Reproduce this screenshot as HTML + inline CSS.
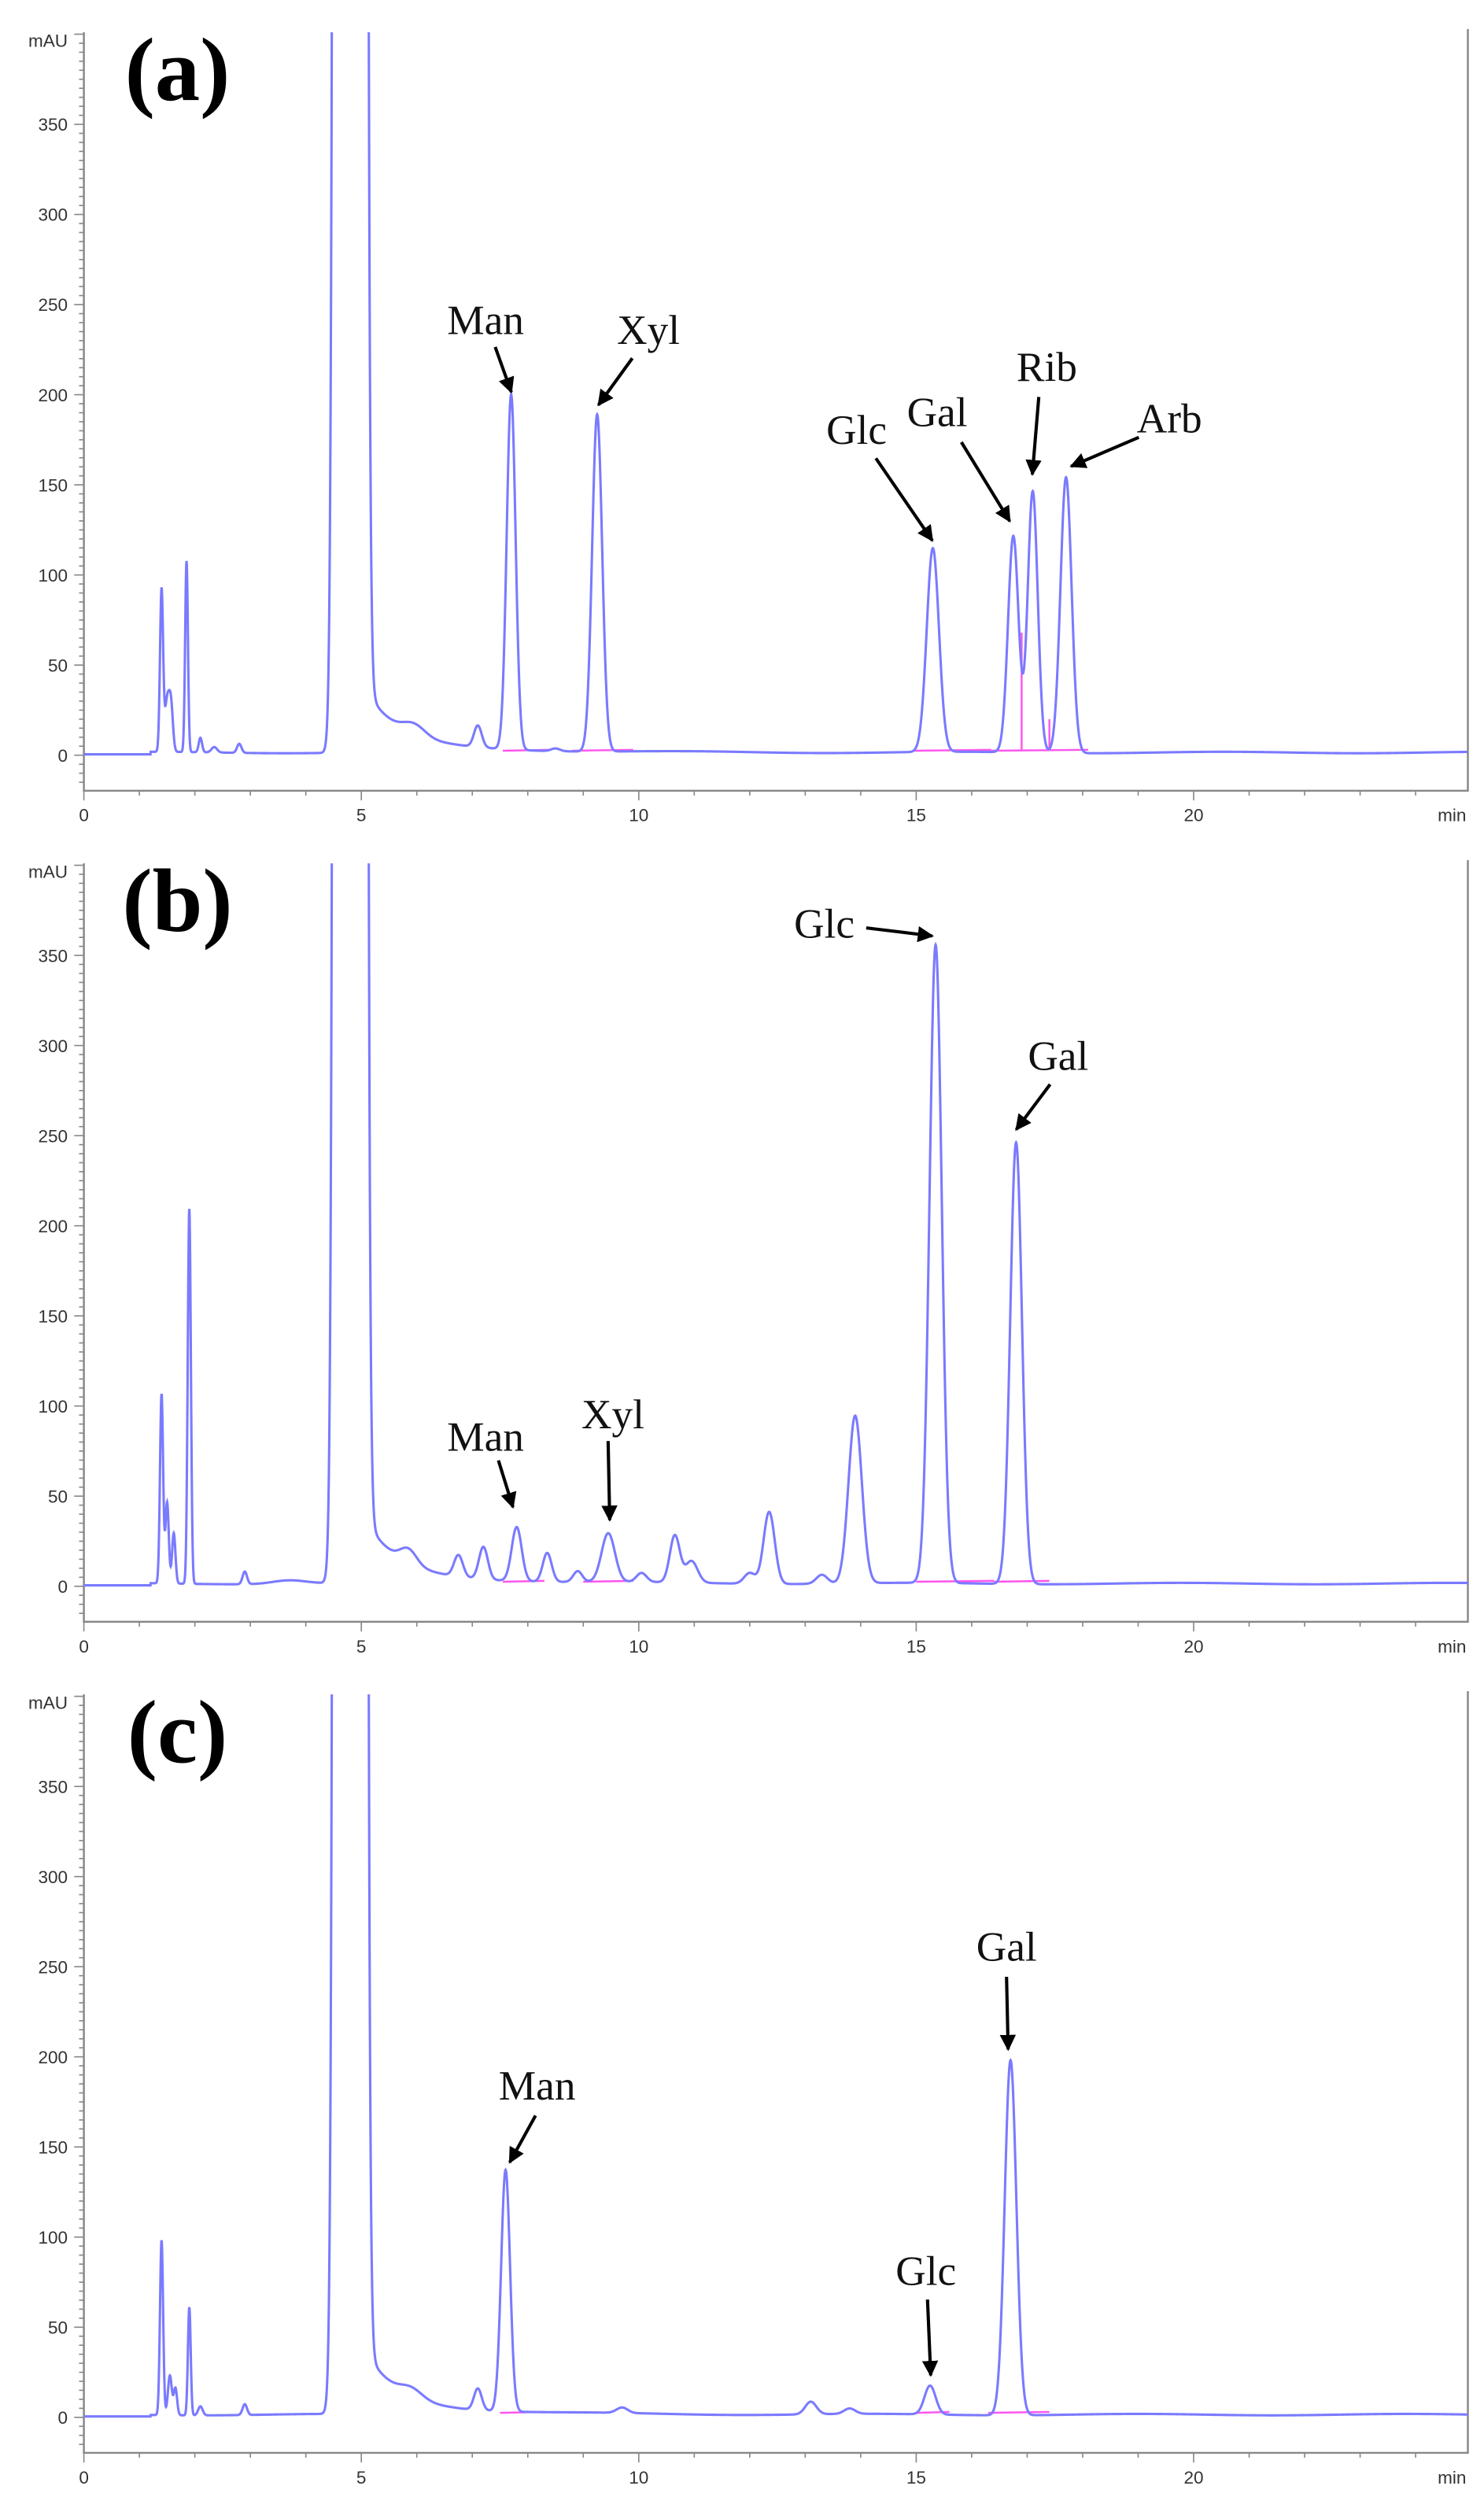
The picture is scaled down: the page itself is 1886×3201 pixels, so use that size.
<!DOCTYPE html>
<html><head><meta charset="utf-8">
<style>
html,body{margin:0;padding:0;background:#fff;}
svg{display:block;}
.tk{font-family:"Liberation Sans",sans-serif;font-size:11px;fill:#333;}
.lb{font-family:"Liberation Serif",serif;font-size:26px;fill:#111;}
.pl{font-family:"Liberation Serif",serif;font-size:56px;font-weight:bold;fill:#000;}
</style></head>
<body>
<svg id="s" width="1886" height="3201" viewBox="0 0 920 1561" preserveAspectRatio="none" xmlns="http://www.w3.org/2000/svg">
<defs>
<marker id="ar" viewBox="0 0 10 10" refX="9" refY="5" markerWidth="5" markerHeight="5" orient="auto"><path d="M0,0 L10,5 L0,10 z" fill="#000"/></marker>
</defs>
<g id="root"></g>
</svg>
<script>
var NS="http://www.w3.org/2000/svg";
var root=document.getElementById('root');
function el(t,a,txt){var e=document.createElementNS(NS,t);for(var k in a)e.setAttribute(k,a[k]);if(txt!==undefined)e.textContent=txt;root.appendChild(e);return e;}
var X0=52,PX=34.4,Y0=468,PY=1.117,TOP=20,AX=490,RT=910;
var panels=[
 {off:0,lab:"(a)",peaks:[[1.4,90,0.028],[1.5,28,0.04],[1.57,25,0.035],[1.85,106,0.025],[2.1,8,0.03],[2.35,3,0.05],[2.8,5,0.04],[7.1,12,0.07],[7.7,197,0.08],[9.25,187,0.09],[15.3,113,0.11],[16.75,120,0.095],[17.1,145,0.09],[17.7,153,0.1],[5.95,6,0.2],[8.5,1.5,0.08]],
  pink:[[7.55,8.4],[8.8,9.9],[14.95,16.35],[16.3,18.1]],pv:[[16.9,68],[17.4,20]],
  labels:[["Man",301,207,307,215,317,243],["Xyl",402,213,392,222,371,251],["Glc",531,275,543,284,578,335],["Gal",581,264,596,274,626,323],["Rib",649,236,644,246,640,294],["Arb",725,268,706,271,664,289]]},
 {off:515,lab:"(b)",peaks:[[1.4,105,0.028],[1.5,45,0.03],[1.62,28,0.03],[1.9,208,0.028],[2.9,7,0.04],[5.85,8,0.15],[6.75,12,0.08],[7.2,18,0.08],[7.8,30,0.09],[8.35,16,0.08],[8.9,6,0.08],[9.45,27,0.12],[10.05,5,0.09],[10.65,26,0.09],[10.95,12,0.11],[12.0,6,0.1],[12.35,40,0.1],[13.3,5,0.1],[13.9,93,0.12],[15.35,354,0.11],[16.8,245,0.105],[3.7,2,0.3]],
  pink:[[7.55,8.3],[9.0,9.9],[15.0,16.4],[16.4,17.4]],pv:[],
  labels:[["Man",301,899,309,905,318,934],["Xyl",380,885,377,893,378,942],["Glc",511,581,537,575,578,580],["Gal",656,663,651,672,630,700]]},
 {off:1030,lab:"(c)",peaks:[[1.4,97,0.028],[1.55,22,0.035],[1.65,15,0.03],[1.9,60,0.025],[2.1,5,0.04],[2.9,6,0.04],[5.9,5,0.2],[7.1,12,0.07],[7.6,134,0.08],[9.7,3,0.1],[13.1,7,0.1],[13.8,3,0.1],[15.25,16,0.1],[16.7,197,0.105]],
  pink:[[7.5,8.3],[15.0,15.6],[16.3,17.4]],pv:[],
  labels:[["Man",333,1301,332,1311,316,1340],["Glc",574,1416,575,1425,577,1472],["Gal",624,1215,624,1225,625,1270]]}
];
panels.forEach(function(p,pi){
 var o=p.off;
 function xs(t){return X0+PX*t;}
 function ys(v){return o+Y0-PY*v;}
 var cid="c"+pi;
 var cp=document.createElementNS(NS,"clipPath");cp.setAttribute("id",cid);
 var r=document.createElementNS(NS,"rect");r.setAttribute("x",X0);r.setAttribute("y",o+TOP);r.setAttribute("width",RT-X0);r.setAttribute("height",AX-TOP);
 cp.appendChild(r);document.querySelector("defs").appendChild(cp);
 el("path",{d:"M"+X0+","+(o+TOP)+"V"+(o+AX)+"H"+RT+"V"+(o+TOP-2),stroke:"#888",fill:"none","stroke-width":1.2});
 for(var v=-20;v<=400;v+=5){var y=ys(v);if(y<o+TOP-0.5||y>o+AX)continue;var maj=(v%50==0);el("line",{x1:X0-(maj?6:3),x2:X0,y1:y,y2:y,stroke:"#888","stroke-width":0.8});
  if(maj&&v>=0&&v<=350)el("text",{x:X0-10,y:y+4,"text-anchor":"end",class:"tk"},String(v));}
 el("text",{x:X0-10,y:o+TOP+9,"text-anchor":"end",class:"tk","font-size":"9"},"mAU");
 for(var t=0;t<=24.5;t++){var x=xs(t);var maj=(t%5==0);el("line",{x1:x,x2:x,y1:o+AX,y2:o+AX+(maj?6:3),stroke:"#888","stroke-width":0.8});
  if(maj)el("text",{x:x,y:o+AX+19,"text-anchor":"middle",class:"tk"},String(t));}
 el("text",{x:RT-1,y:o+AX+19,"text-anchor":"end",class:"tk"},"min");
 p.pink.forEach(function(s){el("line",{x1:xs(s[0]),x2:xs(s[1]),y1:ys(2.5),y2:ys(3),stroke:"#ff55ee","stroke-width":1.2});});
 p.pv.forEach(function(s){el("line",{x1:xs(s[0]),x2:xs(s[0]),y1:ys(3),y2:ys(s[1]),stroke:"#ff55ee","stroke-width":1.2});});
 var d="";
 for(var t=0;t<=25;t+=0.005){
  var v=1.5+0.8*Math.sin(t*1.3+pi)*0.5;
  if(t<1.2)v=0.5;
  p.peaks.forEach(function(k){var z=(t-k[0])/k[2];if(Math.abs(z)<8)v+=k[1]*Math.exp(-z*z/2);});
  var zz=(t-4.8)/0.1;v+=1e5*Math.exp(-zz*zz/2);
  if(t>5.1){v+=28*Math.exp(-(t-5.1)/0.55)+6*Math.exp(-(t-5.1)/2);}
  if(v>450)v=450;
  d+=(d?"L":"M")+xs(t).toFixed(2)+","+ys(v).toFixed(2);
 }
 el("path",{d:d,fill:"none",stroke:"#7a7aff","stroke-width":1.5,"clip-path":"url(#"+cid+")"});
 el("text",{x:110,y:o+62,"text-anchor":"middle",class:"pl"},p.lab);
 p.labels.forEach(function(l){
  el("text",{x:l[1],y:l[2],"text-anchor":"middle",class:"lb"},l[0]);
  el("line",{x1:l[3],y1:l[4],x2:l[5],y2:l[6],stroke:"#000","stroke-width":2,"marker-end":"url(#ar)"});
 });
});
</script>
</body></html>
